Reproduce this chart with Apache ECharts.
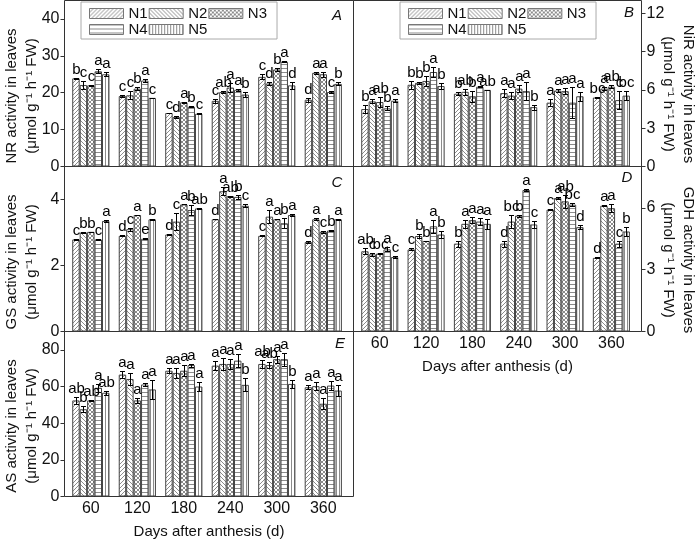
<!DOCTYPE html>
<html><head><meta charset="utf-8">
<script src="https://cdn.jsdelivr.net/npm/echarts@6/dist/echarts.min.js"></script>
<style>html,body{margin:0;padding:0;background:#fff}#c{width:700px;height:543px}</style>
</head><body><div id="c"></div>
<script>
// ---------- data ----------
const days = [60, 120, 180, 240, 300, 360];
const dayLabels = ['60', '120', '180', '240', '300', '360'];
const treatments = ['N1', 'N2', 'N3', 'N4', 'N5'];

// A: NR activity
const nrMean = [
  [23.9, 19.1, 14.5, 17.8, 24.3, 18.1],
  [22.1, 19.3, 13.4, 20.2, 22.5, 25.4],
  [22.0, 21.1, 17.4, 21.4, 26.3, 25.0],
  [25.8, 23.3, 16.2, 20.8, 28.4, 20.2],
  [25.0, 18.6, 14.3, 19.5, 22.0, 22.4]
];
const nrErr = [
  [0.2, 0.3, 0.1, 0.6, 0.7, 0.5],
  [1.1, 1.1, 0.3, 0.2, 0.3, 0.3],
  [0.1, 0.4, 0.1, 1.3, 0.5, 0.7],
  [0.5, 0.5, 0.2, 0.2, 0.1, 0.2],
  [0.5, 0.1, 0.2, 0.6, 1.0, 0.4]
];
const nrLetters = [
  ['b', 'c', 'c', 'c', 'c', 'd'],
  ['c', 'c', 'd', 'ab', 'd', 'a'],
  ['c', 'b', 'a', 'a', 'b', 'a'],
  ['a', 'a', 'b', 'a', 'a', 'c'],
  ['a', 'c', 'c', 'b', 'd', 'b']
];

// B: NiR activity
const nirMean = [
  [4.5, 6.4, 5.7, 5.75, 5.0, 5.4],
  [5.1, 6.55, 5.85, 5.55, 5.95, 6.1],
  [5.05, 6.7, 5.5, 6.1, 5.9, 6.25],
  [4.55, 7.4, 6.25, 5.9, 5.0, 5.2],
  [5.15, 6.3, 6.0, 4.65, 5.5, 5.55]
];
const nirErr = [
  [0.3, 0.3, 0.1, 0.3, 0.3, 0.05],
  [0.15, 0.1, 0.25, 0.3, 0.15, 0.1],
  [0.4, 0.4, 0.45, 0.3, 0.25, 0.1],
  [0.15, 0.4, 0.05, 0.7, 1.2, 0.7],
  [0.1, 0.25, 0.02, 0.2, 0.35, 0.35]
];
const nirLetters = [
  ['b', 'b', 'b', 'a', 'a', 'bc'],
  ['a', 'b', 'ab', 'a', 'a', 'a'],
  ['ab', 'b', 'b', 'a', 'a', 'ab'],
  ['b', 'a', 'a', 'a', 'a', 'c'],
  ['a', 'b', 'ab', 'b', 'a', 'bc']
];

// C: GS activity
const gsMean = [
  [2.79, 2.9, 2.94, 3.4, 2.9, 2.71],
  [3.0, 3.1, 3.33, 4.25, 3.48, 3.4],
  [3.02, 3.53, 3.85, 4.1, 3.4, 3.02],
  [2.79, 2.81, 3.68, 4.08, 3.28, 3.06],
  [3.35, 3.4, 3.73, 3.81, 3.53, 3.4]
];
const gsErr = [
  [0.02, 0.01, 0.02, 0.0, 0.02, 0.02],
  [0.01, 0.05, 0.25, 0.12, 0.2, 0.03],
  [0.01, 0.01, 0.0, 0.01, 0.0, 0.04],
  [0.02, 0.02, 0.15, 0.06, 0.15, 0.02],
  [0.04, 0.02, 0.02, 0.05, 0.02, 0.01]
];
const gsLetters = [
  ['c', 'd', 'd', 'd', 'c', 'd'],
  ['b', 'c', 'c', 'a', 'a', 'a'],
  ['b', 'a', 'a', 'ab', 'a', 'c'],
  ['c', 'e', 'b', 'b', 'b', 'b'],
  ['a', 'b', 'ab', 'c', 'a', 'a']
];

// D: GDH activity
const gdhMean = [
  [3.89, 3.98, 4.26, 4.26, 5.91, 3.57],
  [3.74, 4.63, 5.22, 5.33, 6.47, 6.1],
  [3.78, 4.39, 5.4, 5.62, 6.31, 5.98],
  [3.98, 5.1, 5.33, 6.86, 6.15, 4.26],
  [3.61, 4.7, 5.22, 5.19, 5.06, 4.85]
];
const gdhErr = [
  [0.15, 0.05, 0.15, 0.15, 0.03, 0.03],
  [0.06, 0.08, 0.2, 0.3, 0.03, 0.03],
  [0.03, 0.01, 0.15, 0.05, 0.3, 0.2],
  [0.1, 0.3, 0.15, 0.06, 0.08, 0.15],
  [0.03, 0.15, 0.25, 0.15, 0.1, 0.2]
];
const gdhLetters = [
  ['ab', 'c', 'b', 'd', 'c', 'd'],
  ['c', 'b', 'a', 'bc', 'a', 'a'],
  ['bc', 'b', 'a', 'b', 'ab', 'a'],
  ['a', 'a', 'a', 'a', 'bc', 'c'],
  ['c', 'b', 'a', 'c', 'd', 'b']
];

// E: AS activity
const asMean = [
  [52.4, 66.5, 68.6, 71.4, 72.3, 59.6],
  [47.6, 64.1, 67.4, 72.3, 71.7, 60.2],
  [52.4, 52.4, 68.6, 72.3, 74.9, 50.6],
  [59.3, 61.1, 71.7, 74.1, 74.9, 60.5],
  [56.6, 58.4, 60.0, 60.9, 61.4, 57.8]
];
const asErr = [
  [2.0, 2.0, 1.5, 2.5, 2.2, 1.0],
  [1.5, 3.5, 2.5, 3.5, 1.5, 2.0],
  [0.2, 1.5, 3.0, 2.5, 2.0, 3.0],
  [2.2, 1.0, 0.8, 3.5, 3.5, 2.5],
  [1.0, 5.0, 2.5, 3.5, 2.0, 3.0]
];
const asLetters = [
  ['ab', 'a', 'a', 'a', 'ab', 'a'],
  ['b', 'a', 'a', 'a', 'ab', 'a'],
  ['ab', 'a', 'a', 'a', 'a', 'a'],
  ['a', 'a', 'a', 'a', 'a', 'a'],
  ['ab', 'a', 'a', 'b', 'b', 'a']
];

// axis tick labels
const nrTicks = [0, 10, 20, 30, 40];
const nirTicks = [0, 3, 6, 9, 12];
const gsTicks = [0, 2, 4];
const gdhTicks = [0, 3, 6];
const asTicks = [0, 20, 40, 60, 80];

// ---------- styling ----------
const FONT = "'Liberation Sans', Arial, Helvetica, sans-serif";
const LINE = '#8c8c8c';

function makePattern(kind) {
  const s = kind === 'h' ? 4 : (kind === 'v' ? 3 : 4);
  const c = document.createElement('canvas');
  c.width = s; c.height = s;
  const g = c.getContext('2d');
  g.fillStyle = '#fff'; g.fillRect(0, 0, s, s);
  g.strokeStyle = LINE; g.lineWidth = 1;
  g.beginPath();
  if (kind === 'fwd' || kind === 'x') {
    g.moveTo(0, s); g.lineTo(s, 0);
    g.moveTo(-1, 1); g.lineTo(1, -1);
    g.moveTo(s - 1, s + 1); g.lineTo(s + 1, s - 1);
  }
  if (kind === 'back' || kind === 'x') {
    g.moveTo(0, 0); g.lineTo(s, s);
    g.moveTo(-1, s - 1); g.lineTo(1, s + 1);
    g.moveTo(s - 1, -1); g.lineTo(s + 1, 1);
  }
  if (kind === 'h') { g.moveTo(0, 0.5); g.lineTo(s, 0.5); }
  if (kind === 'v') { g.moveTo(0.5, 0); g.lineTo(0.5, s); }
  g.stroke();
  return { image: c, repeat: 'repeat' };
}
const patterns = [makePattern('fwd'), makePattern('back'), makePattern('x'), makePattern('h'), makePattern('v')];

const panels = [
  { mean: nrMean, err: nrErr, letters: nrLetters, ticks: nrTicks, max: 45, left: 64.5, top: 0.5, w: 289, h: 166, side: 'left', xl: false },
  { mean: nirMean, err: nirErr, letters: nirLetters, ticks: nirTicks, max: 13, left: 353.5, top: 0.5, w: 288, h: 166, side: 'right', xl: false },
  { mean: gsMean, err: gsErr, letters: gsLetters, ticks: gsTicks, max: 5, left: 64.5, top: 166.5, w: 289, h: 165, side: 'left', xl: false },
  { mean: gdhMean, err: gdhErr, letters: gdhLetters, ticks: gdhTicks, max: 8, left: 353.5, top: 166.5, w: 288, h: 165, side: 'right', xl: true },
  { mean: asMean, err: asErr, letters: asLetters, ticks: asTicks, max: 90, left: 64.5, top: 331.5, w: 289, h: 165, side: 'left', xl: true }
];

const grid = [], xAxis = [], yAxis = [], series = [];
panels.forEach((p, k) => {
  grid.push({ left: p.left, top: p.top, width: p.w, height: p.h, show: true, borderColor: '#333', borderWidth: 1, backgroundColor: 'transparent', containLabel: false });
  xAxis.push({
    type: 'value', gridIndex: k, min: 26, max: 399,
    axisLine: { show: false }, splitLine: { show: false },
    axisTick: { show: true, inside: true, length: 3, customValues: days, lineStyle: { color: '#333' } },
    axisLabel: { show: p.xl, customValues: days, formatter: v => dayLabels[days.indexOf(v)] || '', fontSize: 16, fontFamily: FONT, color: '#111', margin: 4 },
    name: p.xl ? 'Days after anthesis (d)' : '', nameLocation: 'middle', nameGap: 28,
    nameTextStyle: { fontSize: 15, fontFamily: FONT, color: '#111' }
  });
  yAxis.push({
    type: 'value', gridIndex: k, position: p.side, min: 0, max: p.max,
    axisLine: { show: false }, splitLine: { show: false },
    axisTick: { show: true, inside: false, length: 4, customValues: p.ticks, lineStyle: { color: '#333' } },
    axisLabel: { customValues: p.ticks, fontSize: 16, fontFamily: FONT, color: '#111', margin: 5 }
  });
  treatments.forEach((t, i) => {
    series.push({
      type: 'bar', name: t, xAxisIndex: k, yAxisIndex: k,
      data: days.map((d, j) => [d, p.mean[i][j]]),
      barGap: '0%', barCategoryGap: '20%',
      itemStyle: { color: patterns[i], borderColor: '#444', borderWidth: 1 },
      emphasis: { disabled: true }, silent: true
    });
  });
  const items = [];
  treatments.forEach((t, i) => days.forEach((d, j) => items.push([d, p.mean[i][j], p.err[i][j], i, j])));
  series.push({
    type: 'custom', xAxisIndex: k, yAxisIndex: k, z: 10, silent: true,
    data: items, encode: { x: 0, y: 1 },
    renderItem: (params, api) => {
      const x = api.value(0), v = api.value(1), e = api.value(2), i = api.value(3), j = api.value(4);
      const c = api.coord([x, v]);
      const band = api.size([60, 0])[0];
      const bw = band * 0.8 / 5;
      const cx = Math.round(c[0] + (i - 2) * bw) + 0.5;
      const yt = Math.round(api.coord([x, v + e])[1]) + 0.5;
      const yb = Math.round(api.coord([x, v - e])[1]) + 0.5;
      const st = { stroke: '#000', lineWidth: 1 };
      return {
        type: 'group', children: [
          { type: 'line', shape: { x1: cx, y1: yt, x2: cx, y2: yb }, style: st },
          { type: 'line', shape: { x1: cx - 2.5, y1: yt, x2: cx + 2.5, y2: yt }, style: st },
          { type: 'line', shape: { x1: cx - 2.5, y1: yb, x2: cx + 2.5, y2: yb }, style: st },
          { type: 'text', style: { text: p.letters[i][j], x: cx, y: yt - 1, textAlign: 'center', textVerticalAlign: 'bottom', font: '15px ' + FONT, fill: '#000' } }
        ]
      };
    }
  });
});

const legendBase = {
  top: 2, width: 185, itemWidth: 34, itemHeight: 10, itemGap: 1, icon: 'rect',
  padding: [4, 10, 2, 8], borderColor: '#aaa', borderWidth: 1,
  itemStyle: { borderColor: '#777', borderWidth: 1 },
  textStyle: { fontSize: 15, fontFamily: FONT, color: '#111' },
  data: treatments, selectedMode: false
};

const titleStyle = (txt) => ({ text: txt, textAlign: 'center', textVerticalAlign: 'middle', font: '15px ' + FONT, fill: '#111', lineHeight: 20 });
const unit = '(\u03bcmol g\u207b\u00b9 h\u207b\u00b9 FW)';
const graphic = [
  { type: 'text', x: 22, y: 96, rotation: Math.PI / 2, style: titleStyle('NR activity in leaves\n' + unit) },
  { type: 'text', x: 22, y: 262, rotation: Math.PI / 2, style: titleStyle('GS activity in leaves\n' + unit) },
  { type: 'text', x: 22, y: 426, rotation: Math.PI / 2, style: titleStyle('AS activity in leaves\n' + unit) },
  { type: 'text', x: 678, y: 94, rotation: -Math.PI / 2, style: titleStyle('NiR activity in leaves\n' + unit) },
  { type: 'text', x: 678, y: 260, rotation: -Math.PI / 2, style: titleStyle('GDH activity in leaves\n' + unit) },
  { type: 'text', x: 337, y: 16, style: { text: 'A', font: 'italic 15px ' + FONT, fill: '#111', textAlign: 'center', textVerticalAlign: 'middle' } },
  { type: 'text', x: 629, y: 13, style: { text: 'B', font: 'italic 15px ' + FONT, fill: '#111', textAlign: 'center', textVerticalAlign: 'middle' } },
  { type: 'text', x: 337, y: 183, style: { text: 'C', font: 'italic 15px ' + FONT, fill: '#111', textAlign: 'center', textVerticalAlign: 'middle' } },
  { type: 'text', x: 627, y: 178, style: { text: 'D', font: 'italic 15px ' + FONT, fill: '#111', textAlign: 'center', textVerticalAlign: 'middle' } },
  { type: 'text', x: 340, y: 344, style: { text: 'E', font: 'italic 15px ' + FONT, fill: '#111', textAlign: 'center', textVerticalAlign: 'middle' } }
];

const chart = echarts.init(document.getElementById('c'), null, { renderer: 'canvas' });
chart.setOption({
  animation: false,
  backgroundColor: '#fff',
  grid, xAxis, yAxis, series, graphic,
  legend: [Object.assign({ left: 81 }, legendBase), Object.assign({ left: 400 }, legendBase)]
});
</script></body></html>
